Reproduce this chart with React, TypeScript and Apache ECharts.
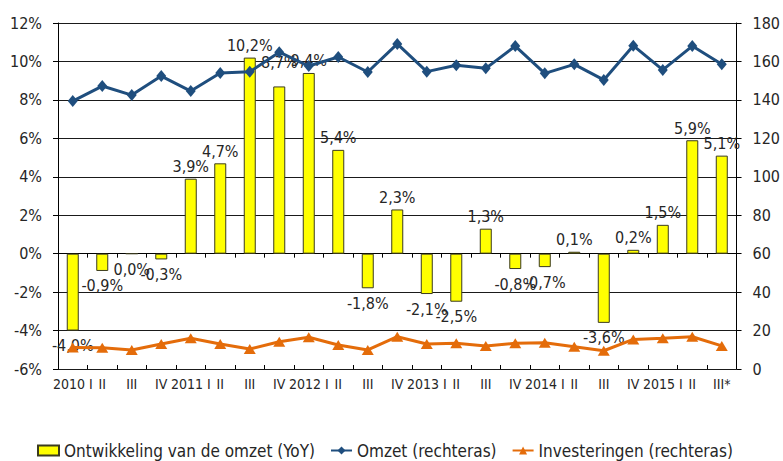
import React, { useEffect, useRef } from "react";
import * as echarts from "echarts";

const categories = [
  "2010 I", "II", "III", "IV",
  "2011 I", "II", "III", "IV",
  "2012 I", "II", "III", "IV",
  "2013 I", "II", "III", "IV",
  "2014 I", "II", "III", "IV",
  "2015 I", "II", "III*",
];

const omzetGrowth = [
  -4.0, -0.9, 0.0, -0.3, 3.9, 4.7, 10.2, 8.7, 9.4, 5.4, -1.8, 2.3,
  -2.1, -2.5, 1.3, -0.8, -0.7, 0.1, -3.6, 0.2, 1.5, 5.9, 5.1,
];

const omzet = [
  139.4, 147.2, 142.5, 152.4, 144.6, 154.0, 154.6, 164.8, 157.6, 162.3, 154.5, 169.1,
  154.7, 158.0, 156.4, 168.0, 153.8, 158.5, 150.4, 168.2, 155.6, 168.0, 158.5,
];

const investeringen = [
  11.2, 11.1, 9.9, 13.0, 16.0, 13.0, 10.4, 14.2, 16.5, 12.5, 9.9, 16.8,
  13.0, 13.4, 12.0, 13.4, 13.7, 11.6, 9.5, 15.4, 16.0, 16.8, 12.0,
];

const leftTicks = { min: -6, max: 12, interval: 2 };
const rightTicks = { min: 0, max: 180, interval: 20 };

const seriesNames = [
  "Ontwikkeling van de omzet (YoY)",
  "Omzet (rechteras)",
  "Investeringen (rechteras)",
];

const FONT = "'DejaVu Sans Condensed', 'Liberation Sans Narrow', 'Arial Narrow', sans-serif";
const TEXT = "#262626";

export default function App() {
  const ref = useRef<HTMLDivElement>(null);

  useEffect(() => {
    if (!ref.current) return;
    const chart = echarts.init(ref.current, null, { renderer: "svg" });

    const fmt = (v: number) => v.toFixed(1).replace(".", ",") + "%";

    const barData = omzetGrowth.map((v, i) => {
      const item: any = { value: v };
      if (v <= 0) {
        item.label = { position: "bottom", distance: 7 };
      }
      if (i === 7) {
        item.label = { position: "top", distance: 16 };
      }
      return item;
    });

    chart.setOption({
      animation: false,
      textStyle: { fontFamily: FONT },
      grid: { left: 58, right: 44, top: 23, bottom: 92, containLabel: false },
      legend: {
        left: 32,
        top: 437,
        itemGap: 15,
        itemWidth: 21,
        itemHeight: 10,
        textStyle: { fontSize: 17, lineHeight: 17, color: TEXT, fontFamily: FONT },
        data: [
          { name: seriesNames[0], icon: "rect" },
          { name: seriesNames[1] },
          { name: seriesNames[2] },
        ],
      },
      xAxis: [
        {
          type: "category",
          data: categories,
          position: "bottom",
          axisLine: { show: false, onZero: false },
          axisTick: { show: false },
          axisLabel: {
            interval: 0,
            margin: 8,
            fontSize: 14,
            color: TEXT,
            fontFamily: FONT,
          },
        },
        {
          type: "category",
          data: categories,
          position: "bottom",
          axisLine: { show: true, onZero: true, lineStyle: { color: "#000", width: 1 } },
          axisTick: { show: true, interval: 0, length: 4, lineStyle: { color: "#000" } },
          axisLabel: { show: false },
        },
        {
          type: "category",
          data: categories,
          position: "top",
          axisLine: { show: false, onZero: true },
          axisTick: { show: true, interval: 0, length: 4, lineStyle: { color: "#000" } },
          axisLabel: { show: false },
        },
      ],
      yAxis: [
        {
          type: "value",
          position: "left",
          min: leftTicks.min,
          max: leftTicks.max,
          interval: leftTicks.interval,
          axisLine: { show: true, lineStyle: { color: "#000" } },
          axisTick: { show: true, length: 5, lineStyle: { color: "#000" } },
          splitLine: { show: true, lineStyle: { color: "#1a1a1a", width: 1 } },
          axisLabel: {
            formatter: (v: number) => `${v}%`,
            fontSize: 16,
            color: TEXT,
            margin: 16,
            fontFamily: FONT,
          },
        },
        {
          type: "value",
          position: "right",
          min: rightTicks.min,
          max: rightTicks.max,
          interval: rightTicks.interval,
          axisLine: { show: true, lineStyle: { color: "#000" } },
          axisTick: { show: true, length: 5, lineStyle: { color: "#000" } },
          splitLine: { show: false },
          axisLabel: {
            fontSize: 16,
            color: TEXT,
            margin: 16,
            fontFamily: FONT,
          },
        },
      ],
      series: [
        {
          name: seriesNames[0],
          type: "bar",
          xAxisIndex: 0,
          yAxisIndex: 0,
          barWidth: 12,
          data: barData,
          itemStyle: { color: "#ffff00", borderColor: "#3b3b1f", borderWidth: 1 },
          label: {
            show: true,
            position: "top",
            distance: 4,
            fontSize: 16,
            color: TEXT,
            fontFamily: FONT,
            formatter: (p: any) => fmt(p.value),
          },
          z: 2,
        },
        {
          name: seriesNames[1],
          type: "line",
          xAxisIndex: 0,
          yAxisIndex: 1,
          data: omzet,
          symbol: "diamond",
          symbolSize: [10, 12],
          lineStyle: { color: "#1f4e7e", width: 3 },
          itemStyle: { color: "#1f4e7e" },
          z: 3,
        },
        {
          name: seriesNames[2],
          type: "line",
          xAxisIndex: 0,
          yAxisIndex: 1,
          data: investeringen,
          symbol: "triangle",
          symbolSize: [12, 10],
          lineStyle: { color: "#e46c0a", width: 3 },
          itemStyle: { color: "#e46c0a" },
          z: 3,
        },
      ],
    });

    return () => chart.dispose();
  }, []);

  return <div ref={ref} style={{ width: 783, height: 461, position: "absolute", left: 0, top: 0 }} />;
}
